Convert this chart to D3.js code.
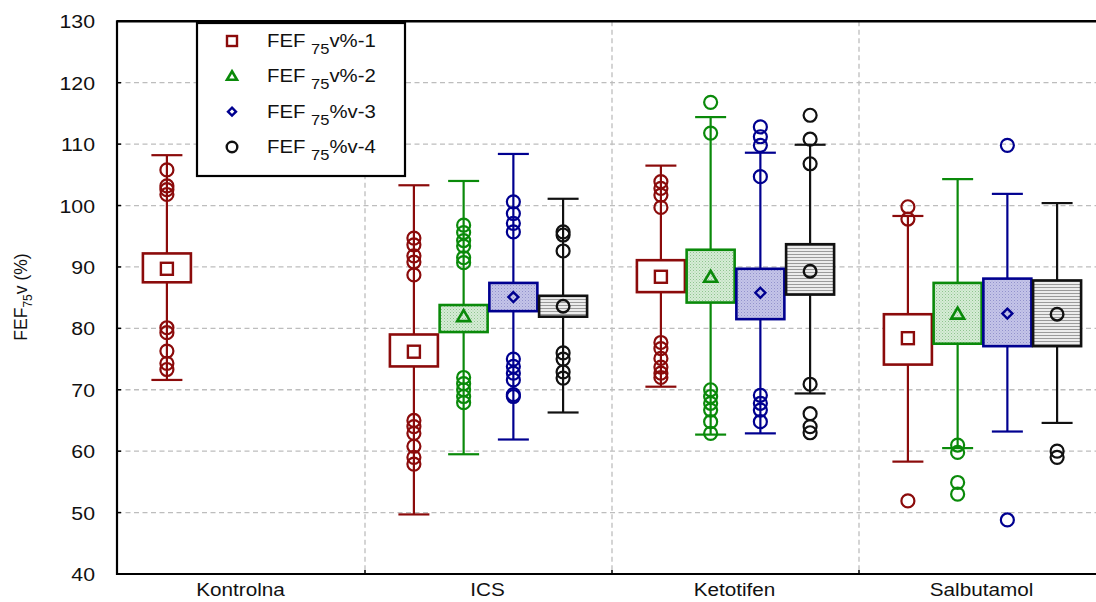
<!DOCTYPE html>
<html><head><meta charset="utf-8">
<script src="https://cdn.jsdelivr.net/npm/d3@7"></script>
<style>
html,body{margin:0;padding:0;background:#fff;}
svg{display:block;font-family:"Liberation Sans",Arial,sans-serif;}
</style></head>
<body><svg id="c" width="1096" height="602"></svg>
<script>
// ---------- data ----------
const categories = ["Kontrolna", "ICS", "Ketotifen", "Salbutamol"];
const seriesKeys = ["1", "2", "3", "4"];
const seriesLabels = [["v%-1"], ["v%-2"], ["%v-3"], ["%v-4"]];
const yTicks = [40, 50, 60, 70, 80, 90, 100, 110, 120, 130];

// per series: [Kontrolna, ICS, Ketotifen, Salbutamol]
const whiskerLow1 = [71.6, 49.7, 70.5, 58.3];
const q1_1        = [87.5, 73.8, 85.9, 74.1];
const median1     = [89.7, 76.2, 88.4, 78.4];
const q3_1        = [92.2, 79.0, 91.1, 82.3];
const whiskerHigh1= [108.2, 103.3, 106.5, 98.3];

const whiskerLow2 = [null, 59.5, 62.7, 60.5];
const q1_2        = [null, 79.4, 84.2, 77.5];
const median2     = [null, 81.9, 88.3, 82.3];
const q3_2        = [null, 83.8, 92.8, 87.4];
const whiskerHigh2= [null, 104.0, 114.4, 104.3];

const whiskerLow3 = [null, 61.9, 62.9, 63.2];
const q1_3        = [null, 82.8, 81.5, 77.1];
const median3     = [null, 85.1, 85.8, 82.4];
const q3_3        = [null, 87.4, 89.7, 88.1];
const whiskerHigh3= [null, 108.4, 108.6, 101.9];

const whiskerLow4 = [null, 66.3, 69.4, 64.6];
const q1_4        = [null, 81.9, 85.5, 77.1];
const median4     = [null, 83.6, 89.3, 82.3];
const q3_4        = [null, 85.3, 93.7, 87.8];
const whiskerHigh4= [null, 101.1, 109.9, 100.4];

const outliers1 = [
  [105.8, 103.2, 102.6, 101.8, 80.1, 79.3, 76.3, 74.3, 73.3],
  [94.7, 93.6, 91.8, 90.8, 88.7, 65.0, 64.0, 62.9, 60.8, 59.0, 57.9],
  [103.9, 102.8, 101.7, 99.7, 77.7, 76.7, 75.1, 73.7, 72.7, 72.0],
  [99.8, 97.8, 51.9]
];
const outliers2 = [
  [],
  [96.8, 95.6, 94.3, 93.4, 91.5, 90.7, 72.0, 71.0, 70.0, 68.9, 67.9],
  [116.8, 111.8, 70.0, 68.9, 67.8, 66.7, 64.8, 62.9],
  [61.0, 59.8, 54.9, 53.0]
];
const outliers3 = [
  [],
  [100.6, 98.7, 97.1, 95.7, 75.0, 73.8, 72.7, 71.6, 69.2, 68.9],
  [112.8, 111.2, 109.8, 104.7, 69.1, 67.8, 66.7, 64.8],
  [109.8, 48.8]
];
const outliers4 = [
  [],
  [95.7, 95.2, 92.6, 76.0, 75.0, 72.9, 71.9],
  [114.7, 110.8, 106.8, 70.9, 66.1, 64.0, 63.0],
  [60.0, 59.0]
];

// ---------- build ----------
(function () {
const lows = [whiskerLow1, whiskerLow2, whiskerLow3, whiskerLow4];
const q1s = [q1_1, q1_2, q1_3, q1_4];
const meds = [median1, median2, median3, median4];
const q3s = [q3_1, q3_2, q3_3, q3_4];
const highs = [whiskerHigh1, whiskerHigh2, whiskerHigh3, whiskerHigh4];
const outs = [outliers1, outliers2, outliers3, outliers4];

const colors = ["#8b0b0b", "#0a8a0a", "#000090", "#111111"];
const fills = ["#ffffff", "url(#pGreen)", "url(#pBlue)", "url(#pGray)"];
const shapes = ["square", "triangle", "diamond", "circle"];

const svg = d3.select("#c");
const pLeft = 117, pTop = 21.3, pBottom = 574, rightEdge = 1096;

const y = d3.scaleLinear().domain([40, 130]).range([pBottom, pTop]);
const x = d3.scaleBand().domain(categories).range([118, 118 + 247 * 4]).padding(0);
const xi = d3.scalePoint().domain(seriesKeys).range([-74.6, 74.6]);
const boxW = 48, capW = 31;

// patterns
const defs = svg.append("defs");
const pg = defs.append("pattern").attr("id", "pGreen").attr("patternUnits", "userSpaceOnUse").attr("width", 3).attr("height", 3);
pg.append("rect").attr("width", 3).attr("height", 3).attr("fill", "#d6ecd6");
pg.append("rect").attr("width", 1).attr("height", 1).attr("fill", "#8fc48f");
pg.append("rect").attr("x", 1.5).attr("y", 1.5).attr("width", 1).attr("height", 1).attr("fill", "#a8d2a8");
const pb = defs.append("pattern").attr("id", "pBlue").attr("patternUnits", "userSpaceOnUse").attr("width", 3).attr("height", 3);
pb.append("rect").attr("width", 3).attr("height", 3).attr("fill", "#c4c4e8");
pb.append("rect").attr("width", 1).attr("height", 1).attr("fill", "#9292cc");
pb.append("rect").attr("x", 1.5).attr("y", 1.5).attr("width", 1).attr("height", 1).attr("fill", "#a8a8d8");
const pk = defs.append("pattern").attr("id", "pGray").attr("patternUnits", "userSpaceOnUse").attr("width", 4).attr("height", 3);
pk.append("rect").attr("width", 4).attr("height", 3).attr("fill", "#ececec");
pk.append("rect").attr("y", 2).attr("width", 4).attr("height", 1).attr("fill", "#9a9a9a");

// grid
const gridH = yTicks.filter(t => t > 40 && t < 130);
svg.append("g").selectAll("line").data(gridH).join("line")
  .attr("x1", pLeft).attr("x2", rightEdge)
  .attr("y1", d => y(d)).attr("y2", d => y(d))
  .attr("stroke", "#bdbdbd").attr("stroke-width", 1.3).attr("stroke-dasharray", "5,3.5");
const seps = categories.slice(1).map(c => x(c));
svg.append("g").selectAll("line").data(seps).join("line")
  .attr("x1", d => d).attr("x2", d => d).attr("y1", pTop).attr("y2", pBottom)
  .attr("stroke", "#bdbdbd").attr("stroke-width", 1.3).attr("stroke-dasharray", "5,3.5");

// frame lines
svg.append("line").attr("x1", pLeft).attr("x2", rightEdge).attr("y1", pTop).attr("y2", pTop).attr("stroke", "#000").attr("stroke-width", 2.5);
svg.append("line").attr("x1", pLeft).attr("x2", rightEdge).attr("y1", pBottom).attr("y2", pBottom).attr("stroke", "#000").attr("stroke-width", 2);
svg.append("line").attr("x1", pLeft).attr("x2", pLeft).attr("y1", pTop - 1).attr("y2", pBottom + 1).attr("stroke", "#000").attr("stroke-width", 2.2);

// y ticks (inside) + labels
svg.append("g").selectAll("line").data(gridH).join("line")
  .attr("x1", pLeft).attr("x2", pLeft + 4).attr("y1", d => y(d)).attr("y2", d => y(d))
  .attr("stroke", "#000").attr("stroke-width", 1.5);
svg.append("g").selectAll("g").data(yTicks).join("g")
  .attr("transform", d => `translate(95,${y(d) + 7}) scale(1.12,1)`)
  .append("text").attr("text-anchor", "end").attr("font-size", 19).attr("fill", "#111").text(d => d);

// x ticks + labels
svg.append("g").selectAll("line").data(seps).join("line")
  .attr("x1", d => d).attr("x2", d => d).attr("y1", pBottom).attr("y2", pBottom - 4)
  .attr("stroke", "#000").attr("stroke-width", 1.5);
svg.append("g").selectAll("g").data(categories).join("g")
  .attr("transform", d => `translate(${x(d) + x.bandwidth() / 2 - 1},596) scale(1.12,1)`)
  .append("text").attr("text-anchor", "middle").attr("font-size", 18.5).attr("fill", "#111").text(d => d);

// y axis label
const yl = svg.append("g").attr("transform", "translate(27,297) rotate(-90)")
  .append("text").attr("text-anchor", "middle").attr("font-size", 17.5).attr("fill", "#111");
yl.append("tspan").text("FEF");
yl.append("tspan").attr("font-size", 12).attr("dy", 5).text("75");
yl.append("tspan").attr("dy", -5).text("v (%)");

// marker drawing
function marker(g, shape, cx, cy, s, color) {
  if (shape === "square") {
    g.append("rect").attr("x", cx - s).attr("y", cy - s).attr("width", 2 * s).attr("height", 2 * s)
      .attr("fill", "none").attr("stroke", color).attr("stroke-width", 2.4);
  } else if (shape === "triangle") {
    const h = s * 1.7;
    g.append("path").attr("d", `M${cx},${cy - h * 0.6}L${cx + s},${cy + h * 0.4}L${cx - s},${cy + h * 0.4}Z`)
      .attr("fill", "none").attr("stroke", color).attr("stroke-width", 2.6).attr("stroke-linejoin", "miter");
  } else if (shape === "diamond") {
    g.append("path").attr("d", `M${cx},${cy - s}L${cx + s},${cy}L${cx},${cy + s}L${cx - s},${cy}Z`)
      .attr("fill", "none").attr("stroke", color).attr("stroke-width", 2.4);
  } else {
    g.append("circle").attr("cx", cx).attr("cy", cy).attr("r", s).attr("fill", "none")
      .attr("stroke", color).attr("stroke-width", 2.4);
  }
}

// boxes
const gBoxes = svg.append("g");
seriesKeys.forEach((k, si) => {
  categories.forEach((c, ci) => {
    if (meds[si][ci] == null) return;
    const cx = x(c) + x.bandwidth() / 2 + xi(k);
    const col = colors[si];
    const g = gBoxes.append("g");
    g.append("line").attr("x1", cx).attr("x2", cx).attr("y1", y(lows[si][ci])).attr("y2", y(highs[si][ci]))
      .attr("stroke", col).attr("stroke-width", 2.2);
    [lows[si][ci], highs[si][ci]].forEach(v => {
      g.append("line").attr("x1", cx - capW / 2).attr("x2", cx + capW / 2).attr("y1", y(v)).attr("y2", y(v))
        .attr("stroke", col).attr("stroke-width", 2.2);
    });
    g.append("rect").attr("x", cx - boxW / 2).attr("y", y(q3s[si][ci]))
      .attr("width", boxW).attr("height", y(q1s[si][ci]) - y(q3s[si][ci]))
      .attr("fill", fills[si]).attr("stroke", col).attr("stroke-width", 2.6);
    const sz = [6, 6.5, 5, 6.3][si];
    marker(g, shapes[si], cx, y(meds[si][ci]), sz, col);
    g.selectAll("circle.o").data(outs[si][ci]).join("circle").attr("class", "o")
      .attr("cx", cx).attr("cy", d => y(d)).attr("r", 6.5)
      .attr("fill", "none").attr("stroke", col).attr("stroke-width", 2.2);
  });
});

// legend
const lg = svg.append("g");
lg.append("rect").attr("x", 197).attr("y", 23).attr("width", 208).attr("height", 153)
  .attr("fill", "#fff").attr("stroke", "#000").attr("stroke-width", 2.2);
const legY = d3.scalePoint().domain(seriesKeys).range([41, 147]);
seriesKeys.forEach((k, si) => {
  const ly = legY(k);
  marker(lg, shapes[si], 232, ly, [5, 5, 4, 5.3][si], colors[si]);
  const t = lg.append("g").attr("transform", `translate(267,${ly + 6}) scale(1.1,1)`)
    .append("text").attr("font-size", 18.5).attr("fill", "#111");
  t.append("tspan").text("FEF ");
  t.append("tspan").attr("font-size", 15).attr("dy", 7).text("75");
  t.append("tspan").attr("dy", -7).text(seriesLabels[si][0]);
});
})();
</script></body></html>
